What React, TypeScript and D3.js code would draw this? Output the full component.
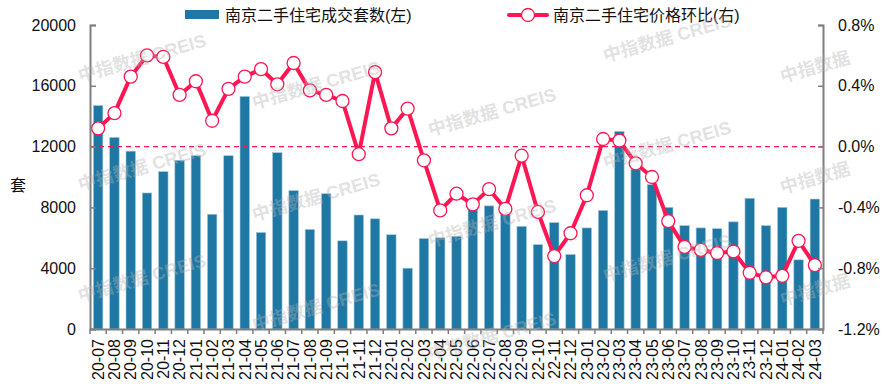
import React, { useEffect, useRef } from 'react';
import * as d3 from 'd3';

// months on the x axis
const months = [
  '20-07', '20-08', '20-09', '20-10', '20-11', '20-12',
  '21-01', '21-02', '21-03', '21-04', '21-05', '21-06', '21-07', '21-08', '21-09', '21-10', '21-11', '21-12',
  '22-01', '22-02', '22-03', '22-04', '22-05', '22-06', '22-07', '22-08', '22-09', '22-10', '22-11', '22-12',
  '23-01', '23-02', '23-03', '23-04', '23-05', '23-06', '23-07', '23-08', '23-09', '23-10', '23-11', '23-12',
  '24-01', '24-02', '24-03',
];

// 成交套数 (left axis)
const volume = [
  14700, 12600, 11700, 8950, 10350, 11100,
  11400, 7550, 11400, 15300, 6350, 11600, 9100, 6550, 8900, 5800, 7500, 7250,
  6200, 4000, 5950, 6000, 6100, 7950, 8100, 7750, 6750, 5550, 7000, 4900,
  6650, 7800, 13000, 10500, 9500, 8000, 6800, 6650, 6600, 7050, 8600, 6800,
  8000, 4550, 8550,
];

// 价格环比 % (right axis)
const mom = [
  0.12, 0.22, 0.46, 0.6, 0.59, 0.34,
  0.43, 0.17, 0.38, 0.46, 0.51, 0.41, 0.55, 0.37, 0.34, 0.3, -0.05, 0.49,
  0.12, 0.25, -0.09, -0.42, -0.31, -0.38, -0.28, -0.41, -0.06, -0.43, -0.72, -0.57,
  -0.32, 0.05, 0.04, -0.11, -0.2, -0.49, -0.66, -0.68, -0.7, -0.69, -0.83, -0.86,
  -0.85, -0.62, -0.78,
];

const leftTicks = [0, 4000, 8000, 12000, 16000, 20000];
const rightTicks = [-1.2, -0.8, -0.4, 0, 0.4, 0.8];

const barName = '南京二手住宅成交套数(左)';
const lineName = '南京二手住宅价格环比(右)';
const watermark = '中指数据 CREIS';
const watermarkShort = '中指数据';

const BAR = '#1f78a3';
const LINE = '#ff1652';
const FONT = '"Liberation Sans", Arial, "Noto Sans CJK SC", sans-serif';

const App = () => {
  const svgRef = useRef<SVGSVGElement>(null);

  useEffect(() => {
    const width = 888;
    const height = 390;
    const margin = { top: 25, right: 65, bottom: 61, left: 90 };
    const chartWidth = width - margin.left - margin.right;
    const chartHeight = height - margin.top - margin.bottom;

    d3.select(svgRef.current).selectAll('*').remove();
    const svg = d3.select(svgRef.current)
      .attr('width', width)
      .attr('height', height)
      .style('font-family', FONT);

    const g = svg.append('g')
      .attr('transform', `translate(${margin.left}, ${margin.top})`);

    const x = d3.scaleBand().domain(months).range([0, chartWidth]).paddingInner(0.42).paddingOuter(0.21);
    const xb = d3.scaleBand().domain(months).range([0, chartWidth]);
    const yL = d3.scaleLinear().domain([0, 20000]).range([chartHeight, 0]);
    const yR = d3.scaleLinear().domain([-1.2, 0.8]).range([chartHeight, 0]);

    // bars
    g.selectAll('rect.bar')
      .data(volume)
      .enter()
      .append('rect')
      .attr('class', 'bar')
      .attr('x', (d, i) => x(months[i]))
      .attr('y', d => yL(d))
      .attr('width', x.bandwidth())
      .attr('height', d => chartHeight - yL(d))
      .attr('fill', BAR)
      .attr('stroke', '#9cc7dc')
      .attr('stroke-width', 0.6);

    // zero line for right axis
    g.append('line')
      .attr('x1', 0)
      .attr('x2', chartWidth)
      .attr('y1', yR(0))
      .attr('y2', yR(0))
      .attr('stroke', LINE)
      .attr('stroke-width', 1.2)
      .attr('stroke-dasharray', '5,4');

    // price line
    const cx = (i: number) => xb(months[i])! + xb.bandwidth() / 2;
    const line = d3.line<number>()
      .x((d, i) => cx(i))
      .y(d => yR(d));

    g.append('path')
      .datum(mom)
      .attr('d', line)
      .attr('fill', 'none')
      .attr('stroke', LINE)
      .attr('stroke-width', 4)
      .attr('stroke-linejoin', 'round');

    g.selectAll('circle.pt')
      .data(mom)
      .enter()
      .append('circle')
      .attr('class', 'pt')
      .attr('cx', (d, i) => cx(i))
      .attr('cy', d => yR(d))
      .attr('r', 6.5)
      .attr('fill', '#fff')
      .attr('stroke', LINE)
      .attr('stroke-width', 1.3);

    // axes
    const axisColor = '#7f7f7f';
    const left = g.append('g')
      .call(d3.axisLeft(yL).tickValues(leftTicks).tickSize(-6).tickPadding(14).tickFormat(d3.format('d')));
    const right = g.append('g')
      .attr('transform', `translate(${chartWidth}, 0)`)
      .call(d3.axisRight(yR).tickValues(rightTicks).tickSize(-5).tickPadding(15).tickFormat(d => `${(+d).toFixed(1)}%`));
    const bottom = g.append('g')
      .attr('transform', `translate(0, ${chartHeight})`)
      .call(d3.axisBottom(xb).tickSize(0).tickPadding(0));

    [left, right, bottom].forEach(a => {
      a.select('.domain').attr('stroke', axisColor).attr('stroke-width', 2);
      a.selectAll('.tick line').attr('stroke', axisColor).attr('stroke-width', 1.5);
      a.selectAll('text').attr('fill', '#111').style('font-size', '16px').style('font-family', FONT);
    });

    bottom.selectAll('.tick text')
      .attr('transform', 'rotate(-90)')
      .attr('text-anchor', 'end')
      .attr('x', -10)
      .attr('y', 0)
      .attr('dy', '0.36em');

    // tick marks at band boundaries on the x axis
    bottom.selectAll('line.bnd')
      .data(d3.range(months.length + 1))
      .enter()
      .append('line')
      .attr('class', 'bnd')
      .attr('x1', i => i * xb.step())
      .attr('x2', i => i * xb.step())
      .attr('y1', 0)
      .attr('y2', 5)
      .attr('stroke', axisColor)
      .attr('stroke-width', 1.5);

    // y axis title
    svg.append('text')
      .attr('x', 18)
      .attr('y', 191)
      .attr('text-anchor', 'middle')
      .style('font-size', '16px')
      .attr('fill', '#111')
      .text('套');

    // legend
    const legend = svg.append('g');
    legend.append('rect')
      .attr('x', 185).attr('y', 10).attr('width', 34).attr('height', 9)
      .attr('fill', BAR);
    legend.append('text')
      .attr('x', 225).attr('y', 21)
      .style('font-size', '16px').attr('fill', '#111')
      .text(barName);
    legend.append('line')
      .attr('x1', 509).attr('x2', 547).attr('y1', 15).attr('y2', 15)
      .attr('stroke', LINE).attr('stroke-width', 4).attr('stroke-linecap', 'round');
    legend.append('circle')
      .attr('cx', 528).attr('cy', 15).attr('r', 6.5)
      .attr('fill', '#fff').attr('stroke', LINE).attr('stroke-width', 1.3);
    legend.append('text')
      .attr('x', 553).attr('y', 21)
      .style('font-size', '16px').attr('fill', '#111')
      .text(lineName);

    // watermarks
    const marks: [number, number, string][] = [
      [142, 58, watermark], [142, 167, watermark], [142, 278, watermark],
      [316, 85, watermark], [316, 197, watermark], [316, 307, watermark],
      [492, 112, watermark], [492, 223, watermark], [492, 336, watermark],
      [667, 38, watermark], [667, 145, watermark], [667, 258, watermark],
      [815, 67, watermarkShort], [815, 178, watermarkShort], [815, 290, watermarkShort],
    ];
    svg.append('g')
      .selectAll('text')
      .data(marks)
      .enter()
      .append('text')
      .attr('transform', d => `translate(${d[0]}, ${d[1]}) rotate(-16)`)
      .attr('text-anchor', 'middle')
      .attr('dy', '0.35em')
      .style('font-size', '18px')
      .style('font-weight', 'bold')
      .attr('fill', '#b4b4b4')
      .attr('fill-opacity', 0.4)
      .text(d => d[2]);
  }, []);

  return (
    <div style={{ position: 'absolute', left: 0, top: 0 }}>
      <svg ref={svgRef}></svg>
    </div>
  );
};

export default App;
